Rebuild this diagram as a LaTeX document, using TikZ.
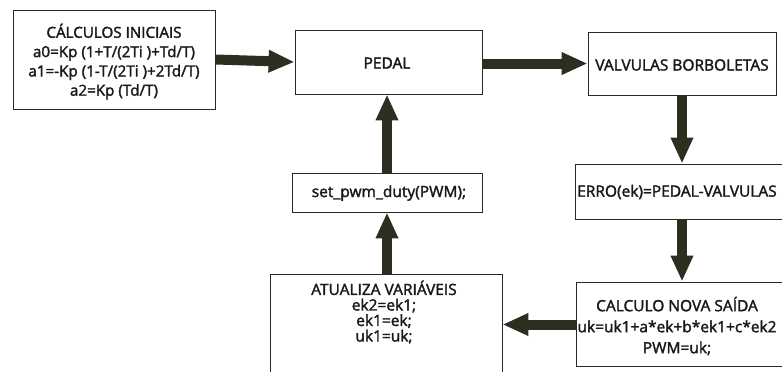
\documentclass[tikz,border=0pt]{standalone}
\usepackage{fontspec}
\setmainfont{Open Sans}[FakeBold=2,AutoFakeBold=2]
\usetikzlibrary{arrows.meta}
\definecolor{arrowc}{RGB}{45,45,32}
\definecolor{boxc}{RGB}{40,40,40}
\tikzset{
  box/.style={draw=boxc, line width=0.9pt, rectangle, inner sep=0pt, fill=white},
  txt/.style={align=center, inner sep=0pt, text=black!90, font=\bfseries},
  bigarrow/.style={draw=arrowc, line width=10pt, -{Triangle[length=26pt,width=21pt]}},
}
\begin{document}
\begin{tikzpicture}[x=1pt,y=-1pt]
\useasboundingbox (0,0) rectangle (782,372);
\clip (0,0) rectangle (782,372);
\fill[white] (0,0) rectangle (782,372);

\node[box, minimum width=202pt, minimum height=99pt] (init) at (114,59.5) {};
\node[txt, font=\bfseries\fontsize{15.2}{19.3}\selectfont] (inittxt) at (114,61.5)
  {CÁLCULOS INICIAIS\\a0=Kp (1+T/(2Ti )+Td/T)\\a1=-Kp (1-T/(2Ti )+2Td/T)\\a2=Kp (Td/T)};

\node[box, minimum width=187pt, minimum height=64pt] (pedal) at (388.5,62) {};
\node[txt, font=\bfseries\fontsize{15.5}{16}\selectfont] (pedaltxt) at (387,63) {PEDAL};

\node[box, minimum width=188pt, minimum height=63pt] (valv) at (682,63.5) {};
\node[txt, font=\bfseries\fontsize{15.5}{16}\selectfont] (valvtxt) at (682,65) {VALVULAS BORBOLETAS};

\node[box, minimum width=215pt, minimum height=55pt] (erro) at (682.5,191.5) {};
\node[txt, anchor=west, font=\bfseries\fontsize{15.5}{16}\selectfont] (errotxt) at (577,192) {ERRO(ek)=PEDAL-VALVULAS};

\node[box, minimum width=214pt, minimum height=84pt] (calc) at (683,324) {};
\node[txt, font=\bfseries\fontsize{15.5}{21}\selectfont] (calctxt) at (677,326)
  {CALCULO NOVA SAÍDA\\uk=uk1+a*ek+b*ek1+c*ek2\\PWM=uk;};

\node[box, minimum width=190pt, minimum height=39pt] (setpwm) at (387,192.5) {};
\node[txt, font=\bfseries\fontsize{15.5}{16}\selectfont] (setpwmtxt) at (389,193) {set\_pwm\_duty(PWM);};

\node[box, minimum width=232pt, minimum height=106pt] (atual) at (386,327) {};
\node[txt, font=\bfseries\fontsize{15.5}{15.5}\selectfont] (atualtxt) at (384,312)
  {ATUALIZA VARIÁVEIS\\ek2=ek1;\\ek1=ek;\\uk1=uk;};

\draw[bigarrow] (init.east) -- (pedal.west);
\draw[bigarrow] (pedal.east |- 0,63.5) -- (valv.west);
\draw[bigarrow] (valv.south) -- (valv.south |- erro.north);
\draw[bigarrow] (erro.south -| valv.south) -- (calc.north -| valv.south);
\draw[bigarrow] (calc.west |- 0,324.5) -- (atual.east |- 0,324.5);
\draw[bigarrow] (setpwm.south |- atual.north) -- (setpwm.south);
\draw[bigarrow] (setpwm.north) -- (setpwm.north |- pedal.south);
\end{tikzpicture}
\end{document}
